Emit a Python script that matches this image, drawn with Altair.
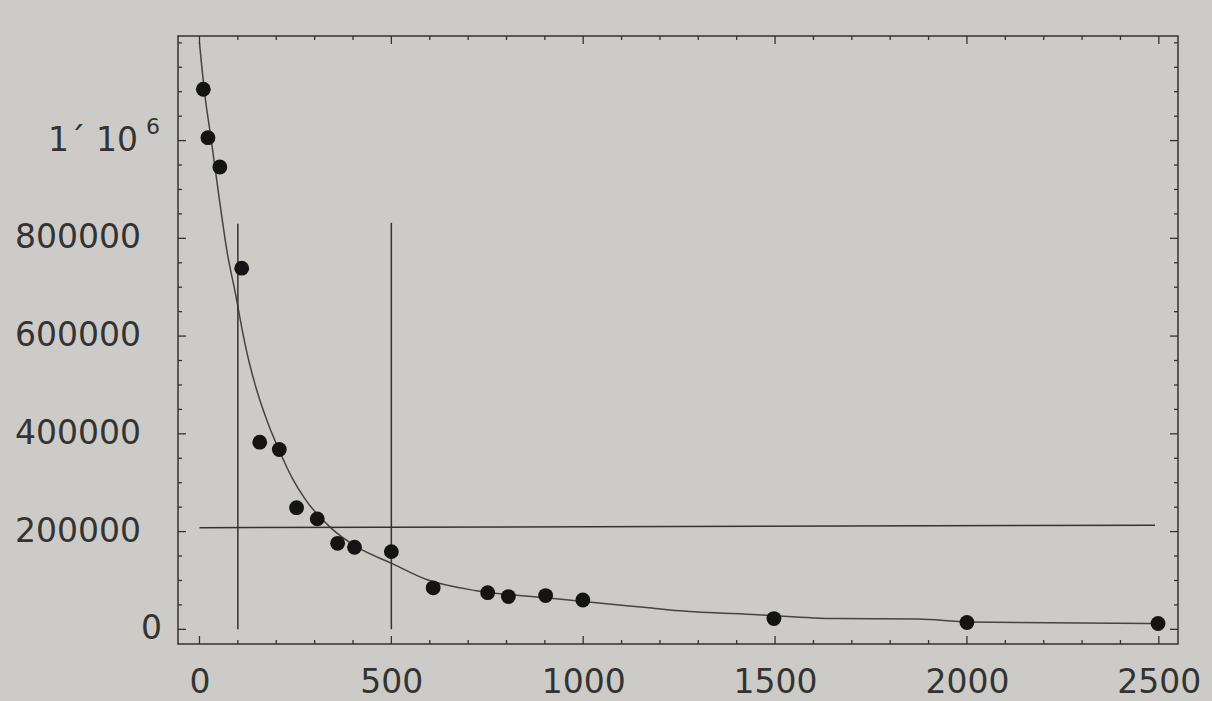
import altair as alt
import pandas as pd

# measured dots
dot_x = [10, 22, 53, 110, 157, 208, 253, 307, 360, 404, 500, 609, 751, 805, 902, 999, 1497, 2000, 2498]
dot_y = [1105000, 1006000, 946000, 739000, 383000, 368000, 249000, 226000, 176000, 168000,
         159000, 85000, 75000, 67000, 69000, 60000, 22000, 14000, 12000]

# fitted curve
curve_x = [0, 13, 30, 50, 72, 95, 110, 129, 152, 176, 209, 242, 275, 343, 411, 501, 592,
           722, 896, 1158, 1251, 1455, 1658, 1873, 2004, 2484]
curve_y = [1200000, 1100000, 1005000, 890000, 772000, 682000, 618000, 548000, 482000, 427000,
           364000, 309000, 267000, 207000, 168000, 135000, 102000, 79000, 65000, 45000, 38000,
           30000, 22000, 21000, 15000, 12000]

# reference lines
vline_x = [100, 500]
vline_y0 = [0, 0]
vline_y1 = [830000, 832000]
hline_x0 = [0]
hline_x1 = [2490]
hline_y0 = [208000]
hline_y1 = [213000]

# ticks and tick labels
x_major = [0, 500, 1000, 1500, 2000, 2500]
x_minor = [100, 200, 300, 400, 600, 700, 800, 900, 1100, 1200, 1300, 1400,
           1600, 1700, 1800, 1900, 2100, 2200, 2300, 2400]
y_major = [0, 200000, 400000, 600000, 800000, 1000000]
y_minor = [50000, 100000, 150000, 250000, 300000, 350000, 450000, 500000, 550000,
           650000, 700000, 750000, 850000, 900000, 950000, 1050000, 1100000, 1150000, 1200000]
y_label_vals = [200000, 400000, 600000, 800000]
y_label_text = ["200000", "400000", "600000", "800000"]
y_zero_text = ["0"]
y_top_val = [1000000]
y_top_text = ["1\u00b4 10"]
y_top_exp = ["6"]

X_DOMAIN = [-56, 2550]
Y_DOMAIN = [-30000, 1214000]
W, H = 1000, 608
INK = "#333333"
FONT = "DejaVu Sans"
FS = 33

xscale = alt.Scale(domain=X_DOMAIN, nice=False, zero=False)
yscale = alt.Scale(domain=Y_DOMAIN, nice=False, zero=False)

xaxis = alt.Axis(values=x_major, format="d", ticks=False, domain=False, grid=False,
                 labelPadding=22, labelFontSize=FS, labelFont=FONT, labelColor=INK,
                 title=None, labelFlush=False)


def X(f):
    return alt.X(f, type="quantitative", scale=xscale, axis=xaxis)


def Y(f):
    return alt.Y(f, type="quantitative", scale=yscale, axis=None)


curve_df = pd.DataFrame({"x": curve_x, "y": curve_y})
dots_df = pd.DataFrame({"x": dot_x, "y": dot_y})
vl_df = pd.DataFrame({"x": vline_x, "y0": vline_y0, "y1": vline_y1})
hl_df = pd.DataFrame({"x0": hline_x0, "x1": hline_x1, "y0": hline_y0, "y1": hline_y1})

curve = alt.Chart(curve_df).mark_line(interpolate="monotone", color="#444444", strokeWidth=1.5).encode(
    x=X("x"), y=Y("y"))

vlines = alt.Chart(vl_df).mark_rule(color=INK, strokeWidth=1.5).encode(
    x=X("x"), y=Y("y0"), y2="y1")

hline = alt.Chart(hl_df).mark_rule(color=INK, strokeWidth=1.5).encode(
    x=X("x0"), x2="x1", y=Y("y0"), y2="y1")

dots = alt.Chart(dots_df).mark_circle(color="#141414", opacity=1, size=220).encode(
    x=X("x"), y=Y("y"))

MAJ, MIN = 8, 4


def xticks(vals, length):
    df = pd.DataFrame({"v": vals})
    bottom = alt.Chart(df).mark_rule(color=INK, strokeWidth=1.3).encode(
        x=X("v"), y=alt.value(H), y2=alt.value(H - length))
    top = alt.Chart(df).mark_rule(color=INK, strokeWidth=1.3).encode(
        x=X("v"), y=alt.value(0), y2=alt.value(length))
    return [bottom, top]


def yticks(vals, length):
    df = pd.DataFrame({"v": vals})
    left = alt.Chart(df).mark_rule(color=INK, strokeWidth=1.3).encode(
        y=Y("v"), x=alt.value(0), x2=alt.value(length))
    right = alt.Chart(df).mark_rule(color=INK, strokeWidth=1.3).encode(
        y=Y("v"), x=alt.value(W), x2=alt.value(W - length))
    return [left, right]


tick_layers = xticks(x_major, MAJ) + xticks(x_minor, MIN) + yticks(y_major, MAJ) + yticks(y_minor, MIN)


def ylabels(vals, texts, xpos, size=FS, dy=0):
    df = pd.DataFrame({"v": vals, "t": texts})
    return alt.Chart(df).mark_text(align="right", baseline="middle", font=FONT, fontSize=size,
                                   color=INK, dy=dy).encode(
        y=Y("v"), x=alt.value(xpos), text="t:N")


label_layers = [
    ylabels(y_label_vals, y_label_text, -37),
    ylabels([0], y_zero_text, -16),
    ylabels(y_top_val, y_top_text, -40),
    ylabels(y_top_val, y_top_exp, -18, size=22, dy=-14),
]

chart = alt.layer(curve, vlines, hline, dots, *tick_layers, *label_layers).properties(
    width=W, height=H,
    autosize="none",
    padding={"left": 178, "top": 36, "right": 34, "bottom": 57},
    background="#cdcbc7",
).configure_view(stroke=INK, strokeWidth=1.5, fill="#cdcbc7")

chart.save("out.html", embed_options={"renderer": "svg", "actions": False})
